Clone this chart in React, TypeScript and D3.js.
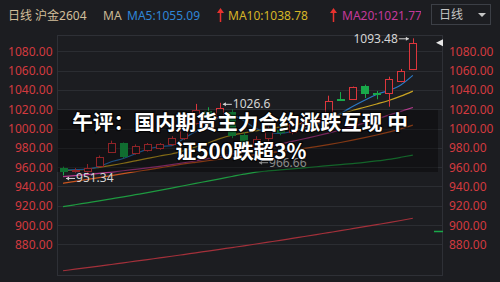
import React from 'react';
import * as d3 from 'd3';

const W = 500;
const H = 282;
const SLOTS = 32; // trading-day slots on the x axis (30 filled)

// Daily candles (index 0 = oldest)
const OPEN = [959.4, 956.0, 955.5, 961.5, 976.0, 984.7, 974.3, 977.7, 979.5, 984.0, 990.0, 1006.0, 1018.0, 1012.0, 1017.5, 993.0, 981.0, 990.0, 998.5, 996.0, 1004.0, 1007.0, 1011.0, 1030.8, 1030.6, 1044.0, 1037.0, 1036.5, 1049.2, 1061.3];
const HIGH = [960.5, 959.0, 963.2, 972.0, 987.4, 985.5, 983.5, 985.0, 985.0, 992.0, 1012.0, 1025.5, 1022.0, 1026.6, 1019.5, 996.0, 992.0, 1002.0, 1006.0, 1008.0, 1010.0, 1013.0, 1034.0, 1037.8, 1043.5, 1045.5, 1038.9, 1053.7, 1061.7, 1093.48];
const LOW = [951.34, 954.5, 954.5, 960.0, 975.0, 969.1, 973.0, 976.0, 978.0, 982.0, 988.0, 1004.0, 1008.0, 1009.0, 990.0, 978.0, 966.66, 986.0, 993.0, 994.0, 999.0, 1002.0, 1009.0, 1028.5, 1029.5, 1031.6, 1030.3, 1022.6, 1048.0, 1060.5];
const CLOSE = [955.5, 957.5, 959.0, 970.8, 985.3, 971.5, 981.9, 983.6, 983.6, 990.5, 1008.0, 1019.0, 1012.0, 1021.0, 993.0, 982.0, 989.0, 998.0, 996.0, 1005.0, 1007.0, 1010.5, 1028.5, 1030.0, 1042.7, 1036.5, 1036.3, 1051.3, 1059.9, 1088.9];

// Moving averages
const MA5 = [957.0, 957.4, 958.0, 960.5, 965.6, 968.9, 973.8, 978.6, 981.2, 982.2, 989.5, 997.0, 1002.6, 1011.7, 1013.6, 1008.0, 1000.0, 996.0, 995.0, 997.0, 1000.5, 1004.0, 1010.0, 1015.5, 1022.8, 1029.3, 1035.3, 1039.4, 1045.2, 1055.09];
const MA10 = [956.3, 957.0, 958.0, 959.8, 961.8, 964.0, 966.5, 969.0, 971.5, 973.6, 977.0, 981.0, 985.0, 989.5, 993.0, 995.5, 997.5, 999.5, 1001.5, 1003.5, 1005.7, 1008.5, 1011.5, 1014.5, 1018.7, 1022.0, 1025.4, 1029.0, 1033.5, 1038.78];
const MA20 = [950.1, 951.2, 952.3, 953.5, 954.8, 956.2, 957.7, 959.2, 960.8, 962.6, 964.5, 966.5, 968.7, 971.0, 973.5, 976.0, 978.5, 981.0, 983.8, 986.6, 989.4, 992.2, 995.2, 998.5, 1002.0, 1005.8, 1009.8, 1013.8, 1017.8, 1021.77];
const MA30 = [943.2, 945.2, 947.2, 949.2, 951.2, 953.2, 955.2, 957.2, 959.2, 961.2, 963.3, 965.0, 966.6, 968.2, 969.8, 971.4, 973.0, 974.6, 976.2, 977.8, 979.5, 981.3, 983.3, 985.5, 987.9, 990.5, 993.3, 996.3, 999.6, 1003.5];
const MA60 = [919.0, 921.0, 923.0, 925.0, 927.1, 929.2, 931.4, 933.6, 935.9, 938.3, 940.7, 943.1, 945.5, 947.9, 950.3, 952.7, 954.8, 956.0, 957.1, 958.2, 959.3, 960.4, 961.5, 962.6, 963.7, 964.9, 966.4, 968.1, 970.2, 972.5];
const MA120 = [852.6, 854.2, 855.8, 857.4, 859.1, 860.8, 862.5, 864.2, 865.9, 867.6, 869.4, 871.2, 873.0, 874.8, 876.6, 878.4, 880.3, 882.2, 884.1, 886.1, 888.1, 890.1, 892.1, 894.1, 896.2, 898.3, 900.4, 902.5, 904.7, 907.0];

const Y_TICKS = [1080, 1060, 1040, 1020, 1000, 980, 960, 940, 920, 900, 880];
const SIDE_MARK = 894; // small green marker on the right edge

const TITLE_1 = '午评：国内期货主力合约涨跌互现 中';
const TITLE_2 = '证500跌超3%';

const BG = '#1c1d21';
const GRID = '#2b2d32';
const UP = '#dc363c';
const DOWN = '#19a84a';
const AXIS_RED = '#d33a3f';

const MA_LINES: { data: number[]; color: string }[] = [
  { data: MA120, color: '#a3303a' },
  { data: MA60, color: '#1e9a40' },
  { data: MA30, color: '#c9561f' },
  { data: MA20, color: '#b73b8f' },
  { data: MA10, color: '#c9a322' },
  { data: MA5, color: '#2b78c4' },
];

const FONT = '"Noto Sans", "Noto Sans CJK SC", sans-serif';

export default function App() {
  const L = 57, R = 443, T = 35, B = 275;
  const x = d3.scaleBand<number>().domain(d3.range(SLOTS)).range([L, R]).paddingInner(0.38).paddingOuter(0.19);
  const y = d3.scaleLinear().domain([848.2, 1096.9]).range([B, T]);
  const cx = (i: number) => (x(i) as number) + x.bandwidth() / 2;
  const crisp = (v: number) => Math.round(v) + 0.5;
  const bw = 7;

  const line = d3.line<number>().x((_, i) => cx(i)).y((d) => y(d)).curve(d3.curveMonotoneX);

  const hiIdx = d3.maxIndex(HIGH);
  const loIdx = d3.minIndex(LOW);
  const midHiIdx = d3.maxIndex(HIGH.slice(0, 20));
  const midLoIdx = 10 + d3.minIndex(LOW.slice(10, 25));

  const lowLabel = (i: number, v: number, text: string, color: string, dy: number) => {
    const x0 = cx(i) + 3;
    const yy = y(v) + dy;
    return (
      <g key={'lbl' + i + text}>
        <line x1={x0} x2={x0 + 9} y1={yy} y2={yy} stroke={color} strokeWidth={1} />
        <path d={`M${x0},${yy} l3,-2 v4 z`} fill={color} />
        <text x={x0 + 10} y={yy + 4} fontSize={12} fill={color} fontFamily={FONT}>{text}</text>
      </g>
    );
  };

  const last = CLOSE[CLOSE.length - 1];

  return (
    <div style={{ position: 'fixed', left: 0, top: 0, width: W, height: H }}>
      <svg width={W} height={H} viewBox={`0 0 ${W} ${H}`} style={{ display: 'block' }}>
        <defs>
          <clipPath id="hdrClip"><rect x={0} y={0} width={421} height={30} /></clipPath>
          <clipPath id="plotClip"><rect x={L} y={T} width={R - L} height={B - T} /></clipPath>
        </defs>
        <rect x={0} y={0} width={W} height={H} fill={BG} />

        {/* header */}
        <g fontFamily={FONT} fontSize={12} clipPath="url(#hdrClip)">
          <text x={8} y={20} fill="#d2bf9b">日线 沪金2604</text>
          <text x={103} y={20} fill="#c9b894">MA</text>
          <text x={127} y={20} fill="#2f86d6">MA5:{MA5[MA5.length - 1].toFixed(2)}</text>
          <g stroke="#e8322e" fill="#e8322e">
            <line x1={220.5} x2={220.5} y1={12} y2={22} strokeWidth={1.5} />
            <path d="M217,13 L220.5,8 L224,13 Z" stroke="none" />
          </g>
          <text x={228} y={20} fill="#d6b526">MA10:{MA10[MA10.length - 1].toFixed(2)}</text>
          <g stroke="#e8322e" fill="#e8322e">
            <line x1={333.5} x2={333.5} y1={12} y2={22} strokeWidth={1.5} />
            <path d="M330,13 L333.5,8 L337,13 Z" stroke="none" />
          </g>
          <text x={342} y={20} fill="#c4399b">MA20:{MA20[MA20.length - 1].toFixed(2)}</text>
        </g>
        <g fontFamily={FONT}>
          <rect x={431.5} y={4.5} width={59} height={20} fill={BG} stroke="#3c3f46" />
          <text x={439} y={19} fontSize={12} fill="#c6c6c6">日线</text>
          <path d="M478,13 L486,13 L482,17 Z" fill="#c6c6c6" />
        </g>

        {/* grid */}
        {Y_TICKS.map((t) => (
          <line key={'g' + t} x1={L} x2={R} y1={crisp(y(t))} y2={crisp(y(t))} stroke={GRID} />
        ))}
        <rect x={L + 0.5} y={T + 0.5} width={R - L - 1} height={B - T} fill="none" stroke="#2e3036" />

        {/* axes labels */}
        <g fontFamily={FONT} fontSize={12} fill={AXIS_RED}>
          {Y_TICKS.map((t) => (
            <text key={'l' + t} x={52.5} y={y(t) + 4.5} textAnchor="end">{t.toFixed(2)}</text>
          ))}
          {Y_TICKS.map((t) => (
            <text key={'r' + t} x={449} y={y(t) + 4.5}>{t.toFixed(2)}</text>
          ))}
        </g>

        <g clipPath="url(#plotClip)">
          {/* moving averages */}
          {MA_LINES.map((m, k) => (
            <path key={'ma' + k} d={line(m.data) || ''} fill="none" stroke={m.color} strokeWidth={1.2} />
          ))}

          {/* candles */}
          {CLOSE.map((c, i) => {
            const o = OPEN[i];
            const up = c >= o;
            const col = up ? UP : DOWN;
            const xc = crisp(cx(i));
            const top = Math.round(y(Math.max(o, c)));
            const bot = Math.round(y(Math.min(o, c)));
            const h = Math.max(1, bot - top);
            const xl = Math.round(cx(i) - bw / 2);
            return (
              <g key={'c' + i}>
                <line x1={xc} x2={xc} y1={y(HIGH[i])} y2={top} stroke={col} />
                <line x1={xc} x2={xc} y1={top + h} y2={y(LOW[i])} stroke={col} />
                {up ? (
                  <rect x={xl + 0.5} y={top + 0.5} width={bw} height={h} fill={BG} stroke={col} />
                ) : (
                  <rect x={xl} y={top} width={bw + 1} height={h + 1} fill={col} />
                )}
              </g>
            );
          })}
        </g>

        {/* extreme labels */}
        <g>
          {(() => {
            const xr = cx(hiIdx) - 4;
            const yy = y(HIGH[hiIdx]) + 0.5;
            return (
              <g>
                <text x={xr - 11} y={yy + 4} fontSize={12} fill="#d4d4d4" fontFamily={FONT} textAnchor="end">{HIGH[hiIdx].toFixed(2)}</text>
                <line x1={xr - 10} x2={xr} y1={yy} y2={yy} stroke="#d4d4d4" />
                <path d={`M${xr},${yy} l-3,-2 v4 z`} fill="#d4d4d4" />
              </g>
            );
          })()}
          {lowLabel(loIdx, LOW[loIdx], LOW[loIdx].toFixed(2), '#d4d4d4', 3)}
          {lowLabel(midHiIdx, HIGH[midHiIdx], String(HIGH[midHiIdx]), '#d4d4d4', 1.5)}
          {lowLabel(midLoIdx, LOW[midLoIdx], LOW[midLoIdx].toFixed(2), '#d4d4d4', 2)}
        </g>

        {/* last price marker and side marker */}
        <path d={`M${R - 7},${y(last)} L${R},${y(last) - 3.5} L${R},${y(last) + 3.5} Z`} fill="#e6e6e6" />
        <line x1={434} x2={R} y1={crisp(y(SIDE_MARK))} y2={crisp(y(SIDE_MARK))} stroke={DOWN} strokeWidth={1.5} />

        {/* news overlay */}
        <rect x={L} y={110} width={381} height={62} fill="#000" fillOpacity={0.35} />
        <g fontFamily='"Noto Sans CJK SC", sans-serif' fontWeight={700} fontSize={20.7} textAnchor="middle" fill="#ffffff" stroke="rgba(0,0,0,0.7)" strokeWidth={2.5} style={{ paintOrder: 'stroke' }}>
          <text x={240} y={130}>{TITLE_1}</text>
          <text x={241} y={159}>{TITLE_2}</text>
        </g>
      </svg>
    </div>
  );
}
